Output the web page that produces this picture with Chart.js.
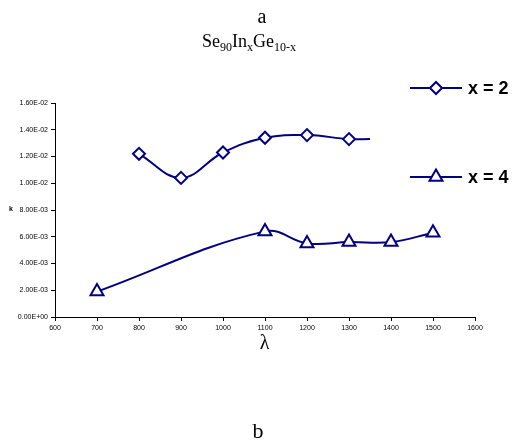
<!DOCTYPE html>
<html>
<head>
<meta charset="utf-8">
<script src="https://cdn.jsdelivr.net/npm/chart.js@4/dist/chart.umd.min.js"></script>
<style>
html,body{margin:0;padding:0;background:#fff;}
#wrap{position:relative;width:524px;height:443px;}
</style>
</head>
<body>
<div id="wrap"><canvas id="c" width="524" height="443"></canvas></div>
<script>
// ---- data ----
const lambdaX2 = [800, 900, 1000, 1100, 1200, 1300, 1350];
const kX2      = [0.0122, 0.0104, 0.0123, 0.0134, 0.0136, 0.0133, 0.0133];
const markX2   = [6, 6, 6, 6, 6, 6, 0];
const lambdaX4 = [700, 1100, 1200, 1300, 1400, 1500];
const kX4      = [0.0019, 0.0064, 0.0055, 0.0056, 0.0056, 0.0063];
const seriesNames = ['x = 2', 'x = 4'];
const xTicks = [600, 700, 800, 900, 1000, 1100, 1200, 1300, 1400, 1500, 1600];
const yTicks = [0, 0.002, 0.004, 0.006, 0.008, 0.010, 0.012, 0.014, 0.016];

const NAVY = '#000080';
function fmtE(v){
  let s = v.toExponential(2);
  let [m, e] = s.split('e');
  let sign = e[0] === '-' ? '-' : '+';
  let n = Math.abs(parseInt(e, 10));
  return m + 'E' + sign + (n < 10 ? '0' + n : '' + n);
}

const textPlugin = {
  id: 'texts',
  afterDraw(chart) {
    const ctx = chart.ctx;
    ctx.save();
    ctx.fillStyle = '#000';
    ctx.textBaseline = 'alphabetic';
    ctx.font = '20px "Liberation Serif", serif';
    ctx.textAlign = 'center';
    ctx.fillText('a', 262, 23);
    const parts = [['Se', 0], ['90', 1], ['In', 0], ['x', 1], ['Ge', 0], ['10-x', 1]];
    const big = '18px "Liberation Serif", serif', small = '12px "Liberation Serif", serif';
    let total = 0;
    parts.forEach(p => { ctx.font = p[1] ? small : big; total += ctx.measureText(p[0]).width; });
    let x = 249 - total / 2;
    ctx.textAlign = 'left';
    parts.forEach(p => {
      ctx.font = p[1] ? small : big;
      ctx.fillText(p[0], x, p[1] ? 51 : 47);
      x += ctx.measureText(p[0]).width;
    });
    ctx.textAlign = 'center';
    ctx.font = '20px "Liberation Serif", serif';
    ctx.fillText('λ', 264.5, 349);
    ctx.font = '22px "Liberation Serif", serif';
    ctx.fillText('b', 258, 438);
    ctx.font = 'bold 7px "Liberation Sans", Arial, sans-serif';
    ctx.fillText('k', 11, 211);
    const legY = [88, 177];
    chart.data.datasets.forEach((ds, i) => {
      const y = legY[i];
      ctx.strokeStyle = NAVY;
      ctx.lineWidth = 2;
      ctx.beginPath(); ctx.moveTo(410, y); ctx.lineTo(462, y); ctx.stroke();
      ctx.fillStyle = '#fff';
      ctx.strokeStyle = NAVY;
      ctx.lineWidth = 2;
      Chart.helpers.drawPoint(ctx, {
        pointStyle: ds.pointStyle, rotation: 0,
        radius: i === 0 ? 6 : 7.5, borderWidth: 2
      }, 436, y);
      ctx.fillStyle = '#000';
      ctx.font = 'bold 18px "Liberation Sans", Arial, sans-serif';
      ctx.textAlign = 'left';
      ctx.textBaseline = 'middle';
      ctx.fillText(seriesNames[i], 468, y + 1);
      ctx.textBaseline = 'alphabetic';
    });
    ctx.restore();
  }
};

new Chart(document.getElementById('c'), {
  type: 'line',
  data: {
    datasets: [
      {
        label: seriesNames[0],
        data: lambdaX2.map((v, i) => ({x: v, y: kX2[i]})),
        borderColor: NAVY, backgroundColor: '#fff',
        borderWidth: 2, pointStyle: 'rectRot', pointRadius: markX2,
        pointBorderWidth: 2, pointBorderColor: NAVY, pointBackgroundColor: '#fff',
        tension: 0.4, fill: false
      },
      {
        label: seriesNames[1],
        data: lambdaX4.map((v, i) => ({x: v, y: kX4[i]})),
        borderColor: NAVY, backgroundColor: '#fff',
        borderWidth: 2, pointStyle: 'triangle', pointRadius: 7.5,
        pointBorderWidth: 2, pointBorderColor: NAVY, pointBackgroundColor: '#fff',
        tension: 0.4, fill: false
      }
    ]
  },
  options: {
    responsive: false,
    animation: false,
    events: [],
    layout: { padding: { top: 103, right: 49, left: 0, bottom: 0 } },
    plugins: { legend: { display: false }, tooltip: { enabled: false }, title: { display: false } },
    scales: {
      x: {
        type: 'linear', min: 600, max: 1600,
        afterBuildTicks: s => { s.ticks = xTicks.map(v => ({value: v})); },
        afterFit: s => { s.height = 126; },
        grid: { drawOnChartArea: false, drawTicks: true, tickLength: 4, color: '#000', tickColor: '#000' },
        border: { display: true, color: '#000', width: 1 },
        ticks: { color: '#000', font: { family: '"Liberation Sans", Arial, sans-serif', size: 7 }, padding: 3, maxRotation: 0, autoSkip: false, callback: v => String(v) }
      },
      y: {
        type: 'linear', min: 0, max: 0.016,
        afterBuildTicks: s => { s.ticks = yTicks.map(v => ({value: v})); },
        afterFit: s => { s.width = 55; },
        grid: { drawOnChartArea: false, drawTicks: true, tickLength: 4, color: '#000', tickColor: '#000' },
        border: { display: true, color: '#000', width: 1 },
        ticks: { color: '#000', font: { family: '"Liberation Sans", Arial, sans-serif', size: 7 }, padding: 3, callback: v => fmtE(v), autoSkip: false }
      }
    }
  },
  plugins: [textPlugin]
});
</script>
</body>
</html>
